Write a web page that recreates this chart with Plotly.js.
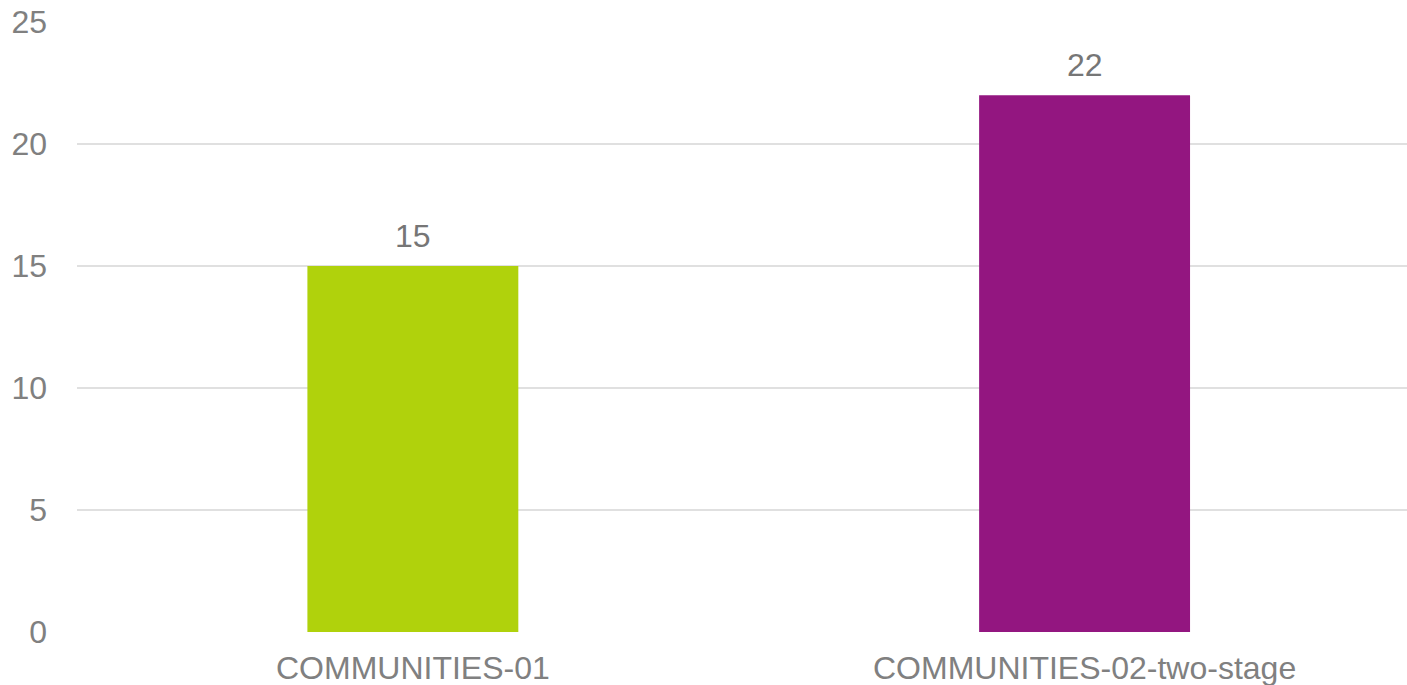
<!DOCTYPE html>
<html>
<head>
<meta charset="utf-8">
<script src="https://cdn.plot.ly/plotly-3.0.1.min.js"></script>
<style>html,body{margin:0;padding:0;background:#fff;}#chart{width:1407px;height:685px;}</style>
</head>
<body>
<div id="chart"></div>
<script>
const categories = ["COMMUNITIES-01", "COMMUNITIES-02-two-stage"];
const values = [15, 22];
const barColors = ["#B0D20C", "#931680"];
const yTickVals = [0, 5, 10, 15, 20, 25];

const FONT = "Liberation Sans, Arial, sans-serif";

const trace = {
  type: "bar",
  x: categories,
  y: values,
  marker: {color: barColors},
  width: 0.314,
  hoverinfo: "x+y"
};

const annotations = categories.map((c, i) => ({
  x: c,
  y: values[i],
  xref: "x",
  yref: "y",
  text: String(values[i]),
  showarrow: false,
  yanchor: "bottom",
  yshift: 10,
  font: {family: FONT, size: 32, color: "#767676"}
}));

const layout = {
  width: 1407,
  height: 685,
  margin: {l: 77, r: 0, t: 22, b: 53},
  paper_bgcolor: "#ffffff",
  plot_bgcolor: "#ffffff",
  showlegend: false,
  font: {family: FONT, size: 32, color: "#808080"},
  annotations: annotations,
  xaxis: {
    type: "category",
    range: [-0.5, 1.48],
    showgrid: false,
    zeroline: false,
    showline: false,
    ticks: "",
    ticklabelstandoff: 14,
    tickfont: {size: 32, color: "#808080"}
  },
  yaxis: {
    range: [0, 25],
    tickvals: yTickVals,
    ticktext: yTickVals.map(String),
    showgrid: true,
    gridcolor: "#e0e0e0",
    gridwidth: 1.5,
    zeroline: false,
    showline: false,
    ticks: "",
    ticklabelstandoff: 29,
    tickfont: {size: 32, color: "#808080"}
  }
};

Plotly.newPlot("chart", [trace], layout, {displayModeBar: false, staticPlot: true});
</script>
</body>
</html>
